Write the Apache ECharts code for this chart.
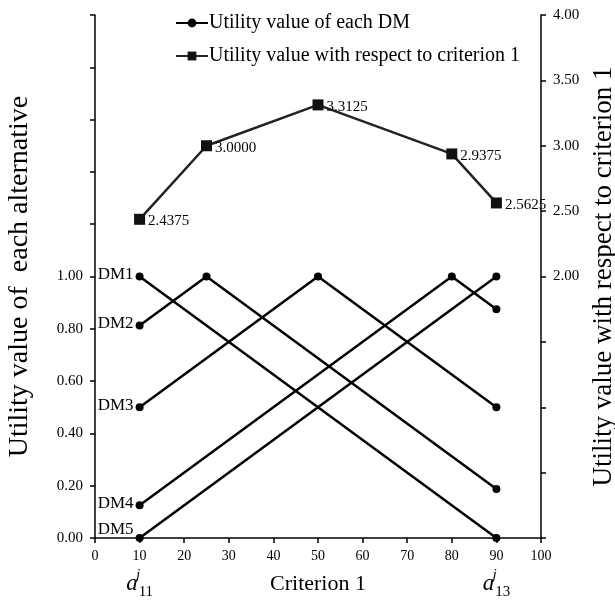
<!DOCTYPE html>
<html>
<head>
<meta charset="utf-8">
<script src="https://cdn.jsdelivr.net/npm/echarts@6/dist/echarts.min.js"></script>
<style>html,body{margin:0;padding:0;background:#fff}#c{width:615px;height:602px}</style>
</head>
<body>
<div id="c"></div>
<script>
// ---- data ----
const dmNames = ['DM1', 'DM2', 'DM3', 'DM4', 'DM5'];
const dmX = [[10, 90], [10, 25, 90], [10, 50, 90], [10, 80, 90], [10, 90]];
const dmY = [[1, 0], [0.8125, 1, 0.1875], [0.5, 1, 0.5], [0.125, 1, 0.875], [0, 1]];
const critX = [10, 25, 50, 80, 90];
const critY = [2.4375, 3.0, 3.3125, 2.9375, 2.5625];
const critLabels = ['2.4375', '3.0000', '3.3125', '2.9375', '2.5625'];
const endLabels = { 10: '11', 90: '13' };
const legendNames = ['Utility value of each DM', 'Utility value with respect to criterion 1'];

const FONT = 'Liberation Serif';
const chart = echarts.init(document.getElementById('c'), null, { renderer: 'canvas' });

const dmSeries = dmNames.map((nm, i) => ({
  name: legendNames[0],
  type: 'line',
  yAxisIndex: 0,
  symbol: 'circle',
  symbolSize: 8,
  lineStyle: { color: '#000', width: 2.5 },
  itemStyle: { color: '#000' },
  z: 3,
  data: dmX[i].map((x, j) => {
    const item = { value: [x, dmY[i][j]] };
    if (j === 0) {
      item.label = {
        show: true, position: 'left', distance: 2, formatter: nm,
        offset: [0, i === 4 ? -8 : -2],
        fontFamily: FONT, fontSize: 17, color: '#000'
      };
    }
    return item;
  })
}));

const critSeries = {
  name: legendNames[1],
  type: 'line',
  yAxisIndex: 1,
  symbol: 'rect',
  symbolSize: 11,
  lineStyle: { color: '#222', width: 2.5 },
  itemStyle: { color: '#111' },
  z: 4,
  label: {
    show: true, position: 'right', distance: 3, offset: [0, 2],
    formatter: p => critLabels[p.dataIndex],
    fontFamily: FONT, fontSize: 15, color: '#000'
  },
  data: critX.map((x, j) => [x, critY[j]])
};

const axisLineStyle = { show: true, onZero: false, lineStyle: { color: '#000', width: 1.5 } };
const tickStyle = { show: true, inside: false, length: 5, lineStyle: { color: '#000', width: 1.5 } };

chart.setOption({
  backgroundColor: '#fff',
  animation: false,
  textStyle: { fontFamily: FONT },
  grid: { left: 95, right: 74, top: 15, bottom: 64, containLabel: false, outerBoundsMode: 'none' },
  legend: {
    data: legendNames,
    orient: 'vertical',
    left: 170, top: 8,
    itemWidth: 32, itemHeight: 11, itemGap: 13,
    textStyle: { fontFamily: FONT, fontSize: 20, color: '#000', padding: [0, 0, 0, -4] }
  },
  xAxis: [{
    type: 'value', min: 0, max: 100, interval: 10,
    name: 'Criterion 1', nameLocation: 'middle', nameGap: 35,
    nameTextStyle: { fontFamily: FONT, fontSize: 22, color: '#000' },
    axisLine: axisLineStyle, axisTick: tickStyle,
    axisLabel: { margin: 11, fontFamily: FONT, fontSize: 14, color: '#000' },
    splitLine: { show: false }
  }, {
    type: 'value', min: 0, max: 100, interval: 10, position: 'bottom',
    axisLine: { show: false }, axisTick: { show: false }, splitLine: { show: false },
    axisLabel: {
      margin: 30,
      formatter: v => endLabels[v] ? '{a|a}{j|j}{s|' + endLabels[v] + '}' : '',
      rich: {
        a: { fontFamily: FONT, fontStyle: 'italic', fontSize: 23, color: '#000', lineHeight: 32, verticalAlign: 'middle' },
        j: { fontFamily: FONT, fontStyle: 'italic', fontSize: 15, color: '#000', width: 1, verticalAlign: 'top', lineHeight: 32 },
        s: { fontFamily: FONT, fontSize: 15, color: '#000', verticalAlign: 'bottom', lineHeight: 32 }
      }
    }
  }],
  yAxis: [{
    type: 'value', min: 0, max: 2, interval: 0.2, position: 'left',
    name: 'Utility value of  each alternative', nameLocation: 'middle', nameGap: 61, nameRotate: 90,
    nameTextStyle: { fontFamily: FONT, fontSize: 28, color: '#000' },
    axisLine: axisLineStyle, axisTick: tickStyle,
    axisLabel: { margin: 12, fontFamily: FONT, fontSize: 15, color: '#000',
      formatter: v => v <= 1.0001 ? v.toFixed(2) : '' },
    splitLine: { show: false }
  }, {
    type: 'value', min: 0, max: 4, interval: 0.5, position: 'right',
    name: 'Utility value with respect to criterion 1', nameLocation: 'middle', nameGap: 49, nameRotate: 90,
    nameTextStyle: { fontFamily: FONT, fontSize: 27, color: '#000' },
    axisLine: axisLineStyle, axisTick: tickStyle,
    axisLabel: { margin: 12, fontFamily: FONT, fontSize: 15, color: '#000',
      formatter: v => v >= 1.9999 ? v.toFixed(2) : '' },
    splitLine: { show: false }
  }],
  series: dmSeries.concat([critSeries])
});
</script>
</body>
</html>
